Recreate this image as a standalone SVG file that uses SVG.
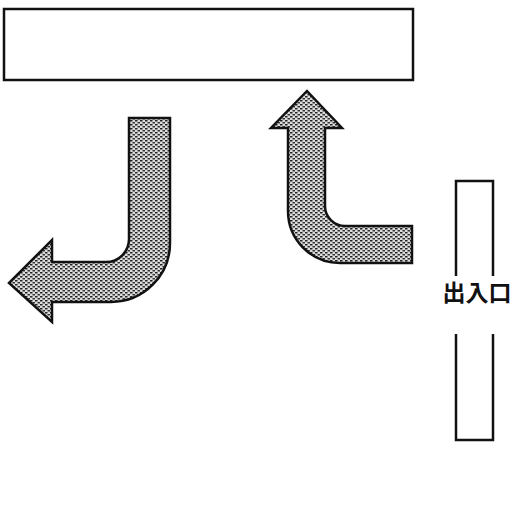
<svg xmlns="http://www.w3.org/2000/svg" width="521" height="514" viewBox="0 0 521 514">
<style>
.box{fill:#fff;stroke:#111;stroke-width:2.5}
.arrow{fill:url(#dots);stroke:#111;stroke-width:2.5;stroke-linejoin:miter}
.wall{fill:none;stroke:#111;stroke-width:2.5}
.label{font-family:"Noto Sans CJK JP","Noto Sans CJK SC",sans-serif;font-weight:bold;font-size:23px;fill:#111}
</style>
<defs>
<pattern id="dots" width="5" height="4" patternUnits="userSpaceOnUse">
<rect width="5" height="4" fill="#dcdcdc"/>
<rect x="0" y="0" width="2.5" height="1.5" fill="#222"/>
<rect x="2.5" y="2" width="2.5" height="1.5" fill="#333"/>
</pattern>
</defs>
<g id="building">
<rect class="box" x="4" y="9" width="409" height="71"/>
</g>
<g id="connectors">
<path id="arrow-out" class="arrow" d="M129,118 L170,118 L170,243 A59,59 0 0 1 111,302 L52,302 L52,322 L9,283 L52,240 L52,262 L106,262 A23,23 0 0 0 129,239 Z"/>
<path id="arrow-in" class="arrow" d="M307,91 L342,128 L325,128 L325,206 A20,20 0 0 0 345,226 L412,226 L412,263 L340,263 A52,52 0 0 1 288,211 L288,128 L271,128 Z"/>
</g>
<g id="entrance">
<path class="wall" d="M456,276 L456,181 L493,181 L493,276"/>
<path class="wall" d="M456,334 L456,440 L493,440 L493,334"/>
<text class="label" x="477" y="301" text-anchor="middle">出入口</text>
</g>
</svg>
